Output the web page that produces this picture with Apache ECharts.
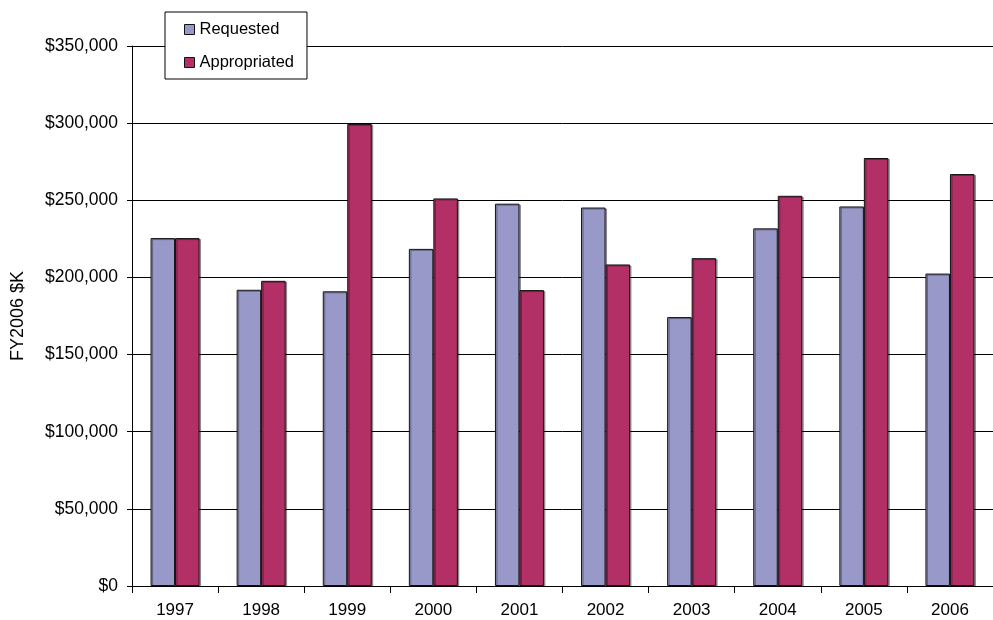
<!DOCTYPE html>
<html>
<head>
<meta charset="utf-8">
<script src="https://cdn.jsdelivr.net/npm/echarts@6/dist/echarts.min.js"></script>
<style>
  html, body { margin: 0; padding: 0; background: #fff; }
  #chart { width: 993px; height: 620px; }
</style>
</head>
<body>
<div id="chart"></div>
<script>
// years on the x axis
var years = ['1997', '1998', '1999', '2000', '2001', '2002', '2003', '2004', '2005', '2006'];
// FY2006 $K
var requested = [225500, 192000, 191000, 218500, 247800, 245300, 174300, 231800, 246000, 202500];
var appropriated = [225500, 197800, 299500, 251200, 191800, 208400, 212500, 252900, 277400, 267000];

var chart = echarts.init(document.getElementById('chart'));

var fontFam = '"Liberation Sans", Arial, sans-serif';

function money(v) {
    return '$' + v.toString().replace(/\B(?=(\d{3})+(?!\d))/g, ',');
}

var option = {
    backgroundColor: '#fff',
    animation: false,
    textStyle: { fontFamily: fontFam },
    grid: {
        left: 132,
        top: 46,
        width: 867,
        bottom: 34
    },
    legend: {
        orient: 'vertical',
        left: 165,
        top: 12,
        backgroundColor: '#fff',
        borderColor: '#000',
        borderWidth: 1,
        padding: [9, 13, 8, 19],
        itemWidth: 10,
        itemHeight: 10,
        itemGap: 16,
        icon: 'rect',
        z: 10,
        itemStyle: { borderColor: '#111', borderWidth: 1 },
        textStyle: { fontSize: 16.5, color: '#000', fontFamily: fontFam },
        data: ['Requested', 'Appropriated']
    },
    xAxis: {
        type: 'category',
        data: years,
        axisLine: { lineStyle: { color: '#000', width: 1 } },
        axisTick: { show: true, length: 7, lineStyle: { color: '#000' } },
        axisLabel: { color: '#000', fontSize: 17, margin: 16 }
    },
    yAxis: {
        type: 'value',
        min: 0,
        max: 350000,
        interval: 50000,
        name: 'FY2006 $K',
        nameLocation: 'middle',
        nameRotate: 90,
        nameGap: 105,
        nameTextStyle: { color: '#000', fontSize: 18 },
        axisLine: { show: true, lineStyle: { color: '#000', width: 1 } },
        axisTick: { show: true, length: 5, lineStyle: { color: '#000' } },
        axisLabel: { color: '#000', fontSize: 17.5, margin: 14, formatter: money },
        splitLine: { lineStyle: { color: '#000', width: 1 } }
    },
    series: [
        {
            name: 'Requested',
            type: 'bar',
            data: requested,
            barWidth: 24.5,
            barGap: '0%',
            itemStyle: {
                color: '#9898c9', borderColor: '#111', borderWidth: 1,
                shadowColor: 'rgba(0,0,0,0.35)', shadowOffsetX: 1.5, shadowOffsetY: 1
            }
        },
        {
            name: 'Appropriated',
            type: 'bar',
            data: appropriated,
            barWidth: 24.5,
            barGap: '0%',
            itemStyle: {
                color: '#b33066', borderColor: '#111', borderWidth: 1,
                shadowColor: 'rgba(0,0,0,0.35)', shadowOffsetX: 1.5, shadowOffsetY: 1
            }
        }
    ]
};

chart.setOption(option);
</script>
</body>
</html>
